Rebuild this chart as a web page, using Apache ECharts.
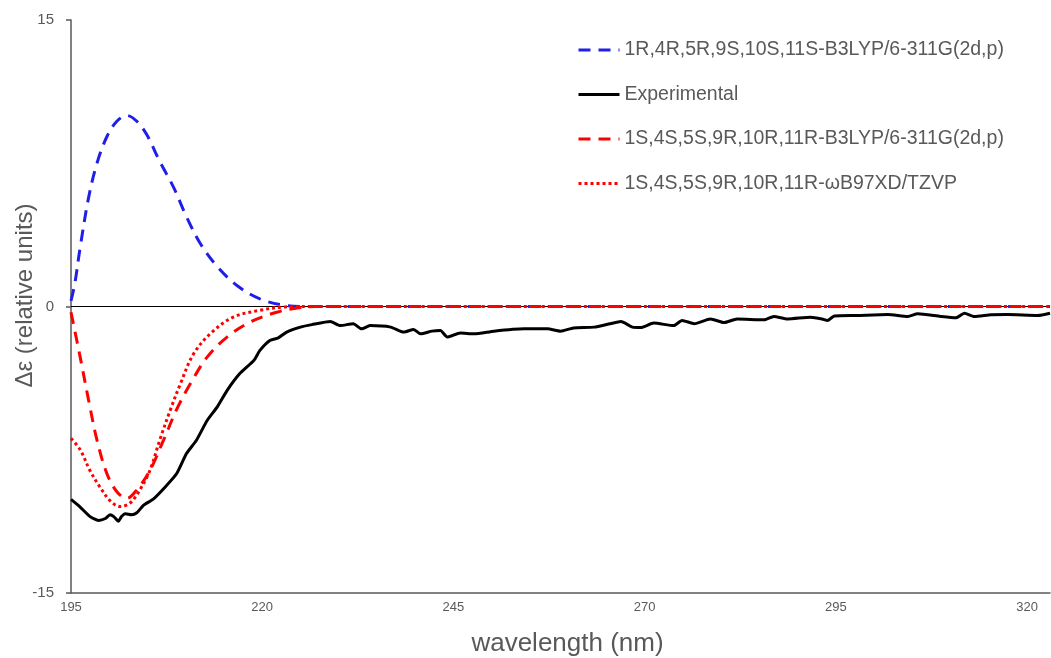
<!DOCTYPE html>
<html>
<head>
<meta charset="utf-8">
<script src="https://cdn.jsdelivr.net/npm/echarts@6/dist/echarts.min.js"></script>
<style>
html,body{margin:0;padding:0;background:#fff;}
#chart{width:1051px;height:658px;}
</style>
</head>
<body>
<div id="chart"></div>
<script>
// ---- data ----
const xTicks = [195, 220, 245, 270, 295, 320];
const yTicks = [-15, 0, 15];

const seriesNames = [
  '1R,4R,5R,9S,10S,11S-B3LYP/6-311G(2d,p)',
  'Experimental',
  '1S,4S,5S,9R,10R,11R-B3LYP/6-311G(2d,p)',
  '1S,4S,5S,9R,10R,11R-\u03c9B97XD/TZVP'
];

const blueX = [195, 195.5, 196.2, 197.3, 198.4, 199.7, 201.0, 202.3, 203.6, 204.9, 206.6, 208.4, 210.1, 211.9, 214.1, 216.7, 219.7, 223.2, 226, 323];
const blueY = [0.3, 1.2, 3.1, 5.7, 7.5, 8.9, 9.7, 10.0, 9.7, 9.0, 7.6, 6.25, 4.7, 3.3, 2.1, 1.1, 0.4, 0.05, 0, 0];

const expX = [195, 196.2, 197.5, 198.6, 199.5, 200.1, 200.6, 201.2, 201.6, 202.1, 202.9, 203.6, 204.5, 205.8, 207.5, 208.8, 210.1, 211.4, 212.8, 214.1, 215.4, 217.1, 218.9, 219.7, 221.0, 222.1, 223.2, 225.0, 226.5, 228.9, 230.2, 231.9, 233.0, 234.1, 236.8, 238.5, 239.8, 240.7, 242.2, 243.3, 244.2, 245.9, 247.7, 250.3, 254.2, 257.3, 259.0, 260.7, 263.4, 265.5, 266.9, 268.4, 269.5, 271.2, 273.8, 274.9, 276.5, 278.6, 280.4, 282.1, 285.6, 286.9, 288.7, 291.7, 293.2, 293.9, 294.8, 297.8, 301.8, 304.4, 305.7, 308.7, 310.7, 311.8, 313.1, 315.3, 317.4, 321.4, 323];
const expY = [-10.1, -10.5, -11.0, -11.2, -11.1, -10.9, -11.0, -11.24, -11.0, -10.85, -10.9, -10.8, -10.4, -10.07, -9.37, -8.76, -7.7, -7.0, -5.97, -5.27, -4.4, -3.5, -2.83, -2.3, -1.78, -1.64, -1.34, -1.08, -0.95, -0.79, -1.0, -0.9, -1.17, -1.0, -1.08, -1.34, -1.2, -1.43, -1.29, -1.26, -1.6, -1.39, -1.43, -1.29, -1.17, -1.17, -1.29, -1.12, -1.08, -0.9, -0.79, -1.08, -1.1, -0.87, -1.0, -0.73, -0.9, -0.65, -0.84, -0.65, -0.7, -0.52, -0.65, -0.56, -0.65, -0.73, -0.5, -0.47, -0.42, -0.52, -0.38, -0.52, -0.59, -0.35, -0.52, -0.43, -0.42, -0.47, -0.35];

const redDashX = [195, 196.2, 197.3, 198.4, 199.7, 201.0, 202.3, 203.6, 205.3, 207.1, 208.8, 210.6, 212.8, 215.4, 218.4, 221.9, 225, 227, 323];
const redDashY = [-0.3, -2.65, -4.9, -7.0, -8.76, -9.7, -10.05, -9.6, -8.6, -7.0, -5.4, -4.05, -2.65, -1.6, -0.82, -0.3, -0.05, 0, 0];

const redDotX = [195, 196.2, 197.5, 198.8, 200.1, 201.4, 202.7, 204.0, 205.3, 206.6, 208.0, 209.3, 211.0, 213.2, 216.2, 219.7, 223, 226, 323];
const redDotY = [-6.9, -7.5, -8.6, -9.46, -10.16, -10.47, -10.3, -9.6, -8.6, -7.0, -5.4, -4.05, -2.5, -1.43, -0.56, -0.2, -0.02, 0, 0];

// ---- chart ----
function pairs(xs, ys) { return xs.map((x, i) => [x, ys[i]]); }

const FONT = '"Liberation Sans", Arial, sans-serif';
const GREY = '#595959';

const chart = echarts.init(document.getElementById('chart'), null, {renderer: 'canvas'});
chart.setOption({
  animation: false,
  backgroundColor: '#ffffff',
  textStyle: {fontFamily: FONT},
  grid: {left: 71, right: 1, top: 20, bottom: 65, containLabel: false, outerBoundsMode: 'none'},
  legend: {
    orient: 'vertical',
    left: 572,
    top: 35,
    itemWidth: 41,
    itemHeight: 14,
    itemGap: 24.5,
    itemStyle: {opacity: 0},
    lineStyle: {width: 3},
    textStyle: {color: GREY, fontSize: 19.5, fontFamily: FONT},
    data: seriesNames
  },
  xAxis: {
    type: 'value',
    min: 195,
    max: 323,
    name: 'wavelength (nm)',
    nameLocation: 'middle',
    nameGap: 38,
    nameMoveOverlap: false,
    nameTextStyle: {color: GREY, fontSize: 26, fontFamily: FONT, padding: [0, 0, 0, 14]},
    axisLine: {onZero: false, lineStyle: {color: GREY, width: 1.5}},
    axisTick: {show: false},
    splitLine: {show: false},
    axisLabel: {customValues: xTicks, color: GREY, fontSize: 13, margin: 8, fontFamily: FONT}
  },
  yAxis: {
    type: 'value',
    min: -15,
    max: 15,
    interval: 15,
    name: '\u0394\u03b5 (relative units)',
    nameLocation: 'middle',
    nameGap: 34,
    nameMoveOverlap: false,
    nameTextStyle: {color: GREY, fontSize: 24, fontFamily: FONT, padding: [0, 0, 0, 22]},
    axisLine: {show: true, lineStyle: {color: GREY, width: 1.5}},
    axisTick: {show: true, length: 5, customValues: yTicks, lineStyle: {color: GREY, width: 1.5}},
    splitLine: {show: false},
    axisLabel: {customValues: yTicks, color: GREY, fontSize: 15, margin: 17, fontFamily: FONT}
  },
  series: [
    {
      name: seriesNames[0], type: 'line', smooth: 0.35, symbol: 'none',
      data: pairs(blueX, blueY), z: 2,
      lineStyle: {color: '#1f1fe8', width: 3, type: [12, 8]},
      itemStyle: {color: '#1f1fe8'},
      markLine: {
        silent: true, symbol: 'none', label: {show: false},
        lineStyle: {color: '#000000', width: 1, type: 'solid'},
        data: [{yAxis: 0}], z: 1
      }
    },
    {
      name: seriesNames[1], type: 'line', smooth: 0.2, symbol: 'none',
      data: pairs(expX, expY), z: 3,
      lineStyle: {color: '#000000', width: 3, type: 'solid'},
      itemStyle: {color: '#000000'}
    },
    {
      name: seriesNames[2], type: 'line', smooth: 0.35, symbol: 'none',
      data: pairs(redDashX, redDashY), z: 4,
      lineStyle: {color: '#ff0000', width: 3, type: [12, 8]},
      itemStyle: {color: '#ff0000'}
    },
    {
      name: seriesNames[3], type: 'line', smooth: 0.35, symbol: 'none',
      data: pairs(redDotX, redDotY), z: 5,
      lineStyle: {color: '#ff0000', width: 3, type: [3, 3]},
      itemStyle: {color: '#ff0000'}
    }
  ]
});
</script>
</body>
</html>
